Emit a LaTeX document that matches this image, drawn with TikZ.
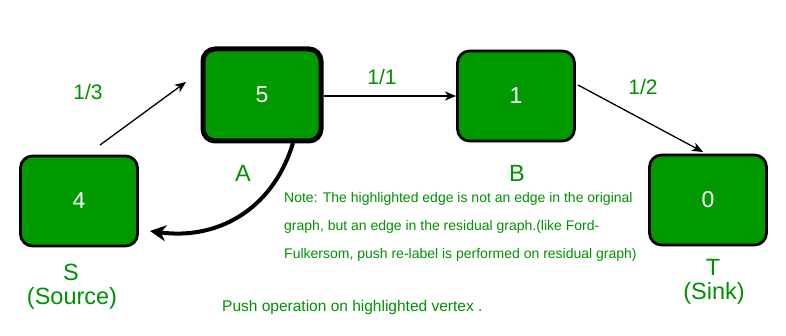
\documentclass[tikz,border=0pt]{standalone}
\usepackage{fontspec}
\setmainfont{Liberation Sans}
\usetikzlibrary{arrows.meta}
\definecolor{boxgreen}{RGB}{0,153,0}
\definecolor{txtgreen}{RGB}{0,145,0}
\tikzset{
  vbox/.style={draw=black, line width=2.8pt, fill=boxgreen, rounded corners=12pt,
    minimum width=117pt, minimum height=90pt, inner sep=0pt,
    text=white, font=\fontsize{23}{27}\selectfont},
  vboxhl/.style={vbox, line width=5pt, minimum width=118pt, minimum height=92pt},
  lbl/.style={text=txtgreen, font=\fontsize{21}{25}\selectfont, inner sep=0pt},
  blbl/.style={lbl, font=\fontsize{23.5}{27}\selectfont},
  note/.style={text=txtgreen, font=\fontsize{14}{28}\selectfont, inner sep=0pt, anchor=west},
  edge/.style={draw=black, line width=1.3pt, -{Stealth[length=11pt,width=9pt,inset=3pt]}},
  resid/.style={draw=black, line width=4pt, -{Stealth[length=16pt,width=16pt,inset=5pt]}},
}
\begin{document}
\begin{tikzpicture}[x=1pt,y=-1pt]
\useasboundingbox (0,0) rectangle (786,336);
\node[vbox] (S) at (79,201) {4};
\node[vboxhl] (A) at (262,95) {5};
\node[vbox] (B) at (516,96) {1};
\node[vbox] (T) at (708,200) {0};
\coordinate (s1) at (100,145);
\coordinate (a1) at (186,82);
\coordinate (b2) at (578,85);
\coordinate (t1) at (703,152);
\draw[edge] (s1) -- (a1);
\draw[edge] (A.east |- 0,96) -- (B.west |- 0,96);
\draw[edge] (b2) -- (t1);
\coordinate (r0) at (293,143);
\coordinate (r1) at (150,231);
\draw[resid] (r0) .. controls (272,212) and (215,240) .. (r1);
\node[lbl] (l13) at (88,92) {1/3};
\node[lbl] (l11) at (382,77) {1/1};
\node[lbl] (l12) at (643,87) {1/2};
\node[blbl] (la) at (243,173) {A};
\node[blbl] (lb) at (517,173) {B};
\node[blbl] (ls) at (71,272) {S};
\node[blbl] (lsrc) at (72,298) {(Source)};
\node[blbl] (lt) at (713,267) {T};
\node[blbl] (lsnk) at (714,293) {(Sink)};
\node[note] (n1) at (284,199) {Note: The highlighted edge is not an edge in the original};
\node[note] (n2) at (284,227) {graph, but an edge in the residual graph.(like Ford-};
\node[note] (n3) at (284,255) {Fulkersom, push re-label is performed on residual graph)};
\node[note, font=\fontsize{15.5}{18}\selectfont] (push) at (222,307) {Push operation on highlighted vertex .};
\end{tikzpicture}
\end{document}
